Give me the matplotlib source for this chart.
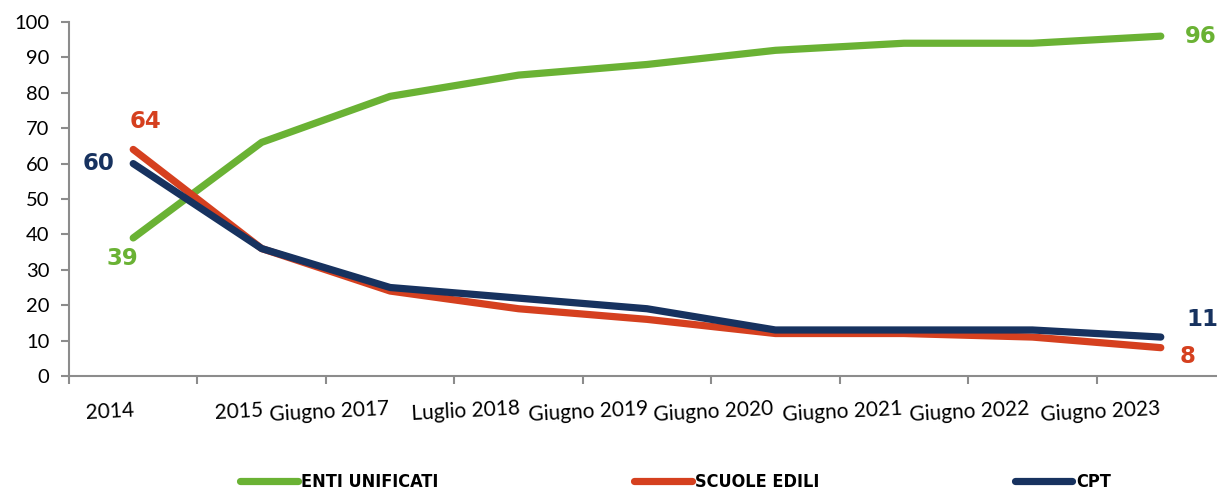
import matplotlib
matplotlib.use("Agg")
import matplotlib.pyplot as plt

periods = ["2014", "2015", "Giugno 2017", "Luglio 2018", "Giugno 2019",
           "Giugno 2020", "Giugno 2021", "Giugno 2022", "Giugno 2023"]
enti_unificati = [39, 66, 79, 85, 88, 92, 94, 94, 96]
scuole_edili = [64, 36, 24, 19, 16, 12, 12, 11, 8]
cpt = [60, 36, 25, 22, 19, 13, 13, 13, 11]

# label offsets as they sit in the original (Excel put them oddly)
label_x = [-0.18, 0.82, 1.53, 2.59, 3.54, 4.52, 5.52, 6.51, 7.53]

green = "#6AB234"
red = "#D5401F"
navy = "#17325F"

fig = plt.figure(figsize=(12.17, 4.97), dpi=100)
ax = fig.add_axes([69/1217, 1 - 376/497, 1156/1217, 354/497])

x = list(range(len(periods)))
kw = dict(lw=5.2, solid_capstyle="round", solid_joinstyle="round")
l1, = ax.plot(x, enti_unificati, color=green, label="ENTI UNIFICATI", **kw)
l2, = ax.plot(x, scuole_edili, color=red, label="SCUOLE EDILI", **kw)
l3, = ax.plot(x, cpt, color=navy, label="CPT", **kw)

lab = dict(fontsize=16.5, fontweight="bold", family="DejaVu Sans")
ax.annotate(str(enti_unificati[0]), (0, enti_unificati[0]), xytext=(-8, -15),
            textcoords="offset points", ha="center", va="center", color=green, **lab)
ax.annotate(str(scuole_edili[0]), (0, scuole_edili[0]), xytext=(9, 20),
            textcoords="offset points", ha="center", va="center", color=red, **lab)
ax.annotate(str(cpt[0]), (0, cpt[0]), xytext=(-25, 0),
            textcoords="offset points", ha="center", va="center", color=navy, **lab)
ax.annotate(str(enti_unificati[-1]), (8, enti_unificati[-1]), xytext=(29, 0),
            textcoords="offset points", ha="center", va="center", color=green, **lab)
ax.annotate(str(scuole_edili[-1]), (8, scuole_edili[-1]), xytext=(19, -6),
            textcoords="offset points", ha="center", va="center", color=red, **lab)
ax.annotate(str(cpt[-1]), (8, cpt[-1]), xytext=(30, 13),
            textcoords="offset points", ha="center", va="center", color=navy, **lab)

ax.set_xlim(-0.5, 8.5)
ax.set_ylim(0, 100)
ax.set_yticks(range(0, 101, 10))
ax.set_xticks([i - 0.5 for i in range(10)])
ax.set_xticklabels([])
for s in ["top", "right"]:
    ax.spines[s].set_visible(False)
for s in ["left", "bottom"]:
    ax.spines[s].set_color("#8C8C8C")
    ax.spines[s].set_linewidth(1.5)
ax.tick_params(axis="both", length=6, width=1.5, color="#8C8C8C",
               labelsize=14.5, labelcolor="black")
ax.tick_params(axis="y", pad=8)
for t in ax.get_yticklabels():
    t.set_family("Lato")

trans = ax.get_xaxis_transform()
for xi, name in zip(label_x, periods):
    ax.text(xi, -0.1, name, transform=trans, ha="center", va="center",
            rotation=3, fontsize=15, family="Lato")

fig.legend(handles=[l1, l2, l3], loc="center", bbox_to_anchor=(0.555, 0.03),
           ncol=3, frameon=False, handlelength=3.2, handletextpad=0.2,
           columnspacing=10.8,
           prop=dict(family="DejaVu Sans", stretch="condensed",
                     weight="bold", size=13))

fig.savefig("out.png", dpi=100)
